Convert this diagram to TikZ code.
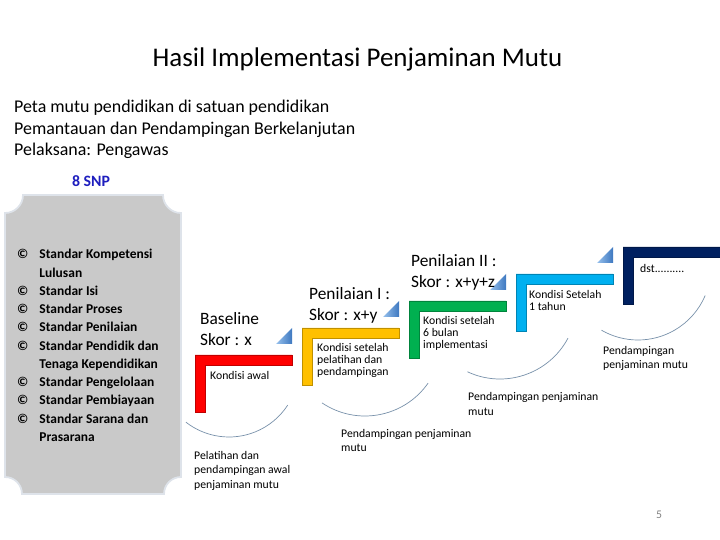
\documentclass[tikz,border=0pt]{standalone}
\usepackage{fontspec}
\setmainfont{Carlito}
\usetikzlibrary{positioning}
\definecolor{kred}{RGB}{255,0,0}
\definecolor{kyellow}{RGB}{255,192,0}
\definecolor{kgreen}{RGB}{0,176,80}
\definecolor{kblue}{RGB}{0,176,240}
\definecolor{knavy}{RGB}{0,32,96}
\definecolor{boxgray}{RGB}{201,201,201}
\definecolor{boxedge}{RGB}{222,227,234}
\definecolor{snpblue}{RGB}{30,30,190}
\definecolor{arcgray}{RGB}{120,145,170}
\definecolor{tridark}{RGB}{62,120,192}
\definecolor{trilight}{RGB}{150,192,236}
\definecolor{pggray}{RGB}{130,130,130}
\tikzset{
  hd/.style={font=\fontsize{14.8}{18.7}\selectfont, inner sep=0pt, align=left},
  sm/.style={font=\fontsize{10}{10.4}\selectfont, inner sep=0pt, align=left},
  capt/.style={font=\fontsize{10}{12.2}\selectfont, inner sep=0pt, align=left},
  tri/.style={left color=trilight, right color=tridark},
  arcln/.style={arcgray, line width=0.6pt},
}

\begin{document}
\begin{tikzpicture}[x=0.03cm, y=0.03cm]
  \useasboundingbox (0,0) rectangle (720,-540);
  \node[font=\fontsize{23}{28}\selectfont, inner sep=0pt, anchor=base] (title) at (357.5,-67)
       {Hasil Implementasi Penjaminan Mutu};
  % base of a multi-line node = its last line
  \node[hd, font=\fontsize{15.3}{18.7}\selectfont, anchor=base west] (intro) at (14,-156)
       {Peta mutu pendidikan di satuan pendidikan\\
        Pemantauan dan Pendampingan Berkelanjutan\\
        Pelaksana: Pengawas};
  \node[font=\fontsize{13.5}{15}\selectfont\bfseries, text=snpblue, inner sep=0pt, anchor=base] (snp)
       at (91,-187) {8 SNP};
  % panel of the eight standards
  \draw[boxedge, line width=1.5pt, fill=boxgray]
    (5,-213) arc[start angle=-90, end angle=0, radius=18] -- (163,-195)
    arc[start angle=180, end angle=270, radius=18] -- (181,-477)
    arc[start angle=90, end angle=180, radius=17] -- (22,-494)
    arc[start angle=0, end angle=90, radius=17] -- cycle;
  \node[anchor=base west, inner sep=0pt, font=\fontsize{11.5}{15.56}\selectfont\bfseries] (snplist)
       at (17,-259) {\begin{tabular}[t]{@{}p{19pt}@{}l@{}}
         © & Standar Kompetensi\\
           & Lulusan\\
         © & Standar Isi\\
         © & Standar Proses\\
         © & Standar Penilaian\\
         © & Standar Pendidik dan\\
           & Tenaga Kependidikan\\
         © & Standar Pengelolaan\\
         © & Standar Pembiayaan\\
         © & Standar Sarana dan\\
           & Prasarana
       \end{tabular}};
  % stairs
  \foreach \clr [count=\i from 0] in {kred,kyellow,kgreen,kblue,knavy}{
    \pgfmathsetmacro{\L}{195+107*\i}
    \pgfmathsetmacro{\T}{-355+27*\i}
    \fill[\clr, draw=\clr!75!black, line width=0.3pt] (\L,\T) -- ++(97,0) -- ++(0,-10)
      -- ++(-87,0) -- ++(0,-47) -- ++(-10,0) -- cycle;
  }
  \foreach \i in {0,...,3}{
    \pgfmathsetmacro{\R}{292+107*\i}
    \pgfmathsetmacro{\B}{-344+27*\i}
    \shade[tri] (\R-16,\B) -- (\R,\B) -- (\R,\B+16) -- cycle;
  }
  \draw[arcln] (229,-367) ++(-128:70) arc[start angle=-128, end angle=-33, radius=70];
  \draw[arcln] (365,-339) ++(-124:77) arc[start angle=-124, end angle=-35, radius=77];
  \draw[arcln] (500,-302) ++(-115:77) arc[start angle=-115, end angle=-28, radius=77];
  \draw[arcln] (638,-267) ++(-120:73) arc[start angle=-120, end angle=-23, radius=73];
  % scores
  \node[hd, anchor=base west] (score0) at (200,-346) {Baseline\\Skor : x};
  \node[hd, anchor=base west] (score1) at (309,-321) {Penilaian I :\\Skor : x+y};
  \node[hd, anchor=base west] (score2) at (411,-288) {Penilaian II :\\Skor : x+y+z};
  % conditions
  \node[sm, anchor=base west] (cond0) at (210,-380) {Kondisi awal};
  \node[sm, anchor=base west] (cond1) at (317,-376) {Kondisi setelah\\pelatihan dan\\pendampingan};
  \node[sm, anchor=base west] (cond2) at (423,-349) {Kondisi setelah\\6 bulan\\implementasi};
  \node[sm, anchor=base west] (cond3) at (529,-311) {Kondisi Setelah\\1 tahun};
  \node[sm, anchor=base west] (cond4) at (640,-273) {dst..........};
  % support captions
  \node[capt, anchor=base west] (sup0) at (194,-488) {Pelatihan dan\\pendampingan awal\\penjaminan mutu};
  \node[capt, anchor=base west] (sup1) at (341,-452) {Pendampingan penjaminan\\mutu};
  \node[capt, anchor=base west] (sup2) at (468,-415) {Pendampingan penjaminan\\mutu};
  \node[capt, anchor=base west] (sup3) at (603,-369) {Pendampingan\\penjaminan mutu};
  \node[font=\fontsize{10}{12}\selectfont, text=pggray, inner sep=0pt, anchor=base] (pgno)
       at (659,-518) {5};
\end{tikzpicture}
\end{document}
